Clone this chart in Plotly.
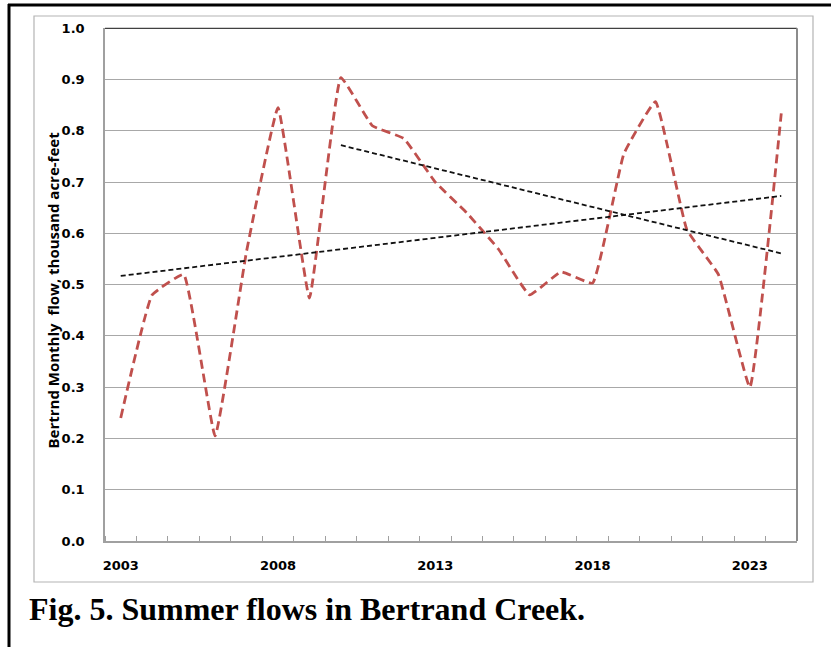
import plotly.graph_objects as go

# Summer (monthly) flows, Bertrand Creek, thousand acre-feet
years = list(range(2003, 2025))
flows = [0.24, 0.48, 0.52, 0.205, 0.565, 0.845, 0.474, 0.904, 0.81, 0.785,
         0.70, 0.64, 0.57, 0.48, 0.525, 0.503, 0.756, 0.857, 0.607, 0.52,
         0.30, 0.834]

# Linear trend lines (full record and since 2010), given by their end points
trend_all_years = [2003, 2024]
trend_all_values = [0.517, 0.673]
trend_recent_years = [2010, 2024]
trend_recent_values = [0.772, 0.561]

x_tick_years = [2003, 2008, 2013, 2018, 2023]
x_tick_labels = ["2003", "2008", "2013", "2018", "2023"]

W, H = 831, 647


def px_x(px):
    return px / W


def px_y(py):
    return 1 - py / H


fig = go.Figure()

fig.add_trace(go.Scatter(
    x=years, y=flows, mode="lines",
    line=dict(color="#c0504d", width=2.8, dash="9px,5px", shape="spline", smoothing=0.3),
    hoverinfo="x+y",
))
fig.add_trace(go.Scatter(
    x=trend_all_years, y=trend_all_values, mode="lines",
    line=dict(color="#111111", width=1.8, dash="5px,3px"),
))
fig.add_trace(go.Scatter(
    x=trend_recent_years, y=trend_recent_values, mode="lines",
    line=dict(color="#111111", width=1.8, dash="5px,3px"),
))

tick_font = dict(family="DejaVu Sans", size=13, color="#000000", weight="bold")

fig.update_layout(
    width=W, height=H,
    margin=dict(l=0, r=0, t=0, b=0, autoexpand=False),
    paper_bgcolor="white", plot_bgcolor="white",
    showlegend=False,
    xaxis=dict(
        domain=[px_x(105), px_x(797)],
        range=[2002.5, 2024.5], automargin=False,
        tickmode="array", tickvals=x_tick_years, ticktext=x_tick_labels,
        ticks="", showgrid=False, zeroline=False,
        showline=True, linecolor="#a0a0a0", linewidth=1.5,
        tickfont=tick_font, ticklabelstandoff=12,
        minor=dict(ticks="inside", ticklen=5, tickwidth=1, tickcolor="#a0a0a0",
                   tick0=2002.5, dtick=1, showgrid=False),
    ),
    yaxis=dict(
        domain=[px_y(541), px_y(28.3)],
        range=[0, 1.0], dtick=0.1, tick0=0, tickformat=".1f", automargin=False,
        ticks="", showgrid=True, gridcolor="#a8a8a8", gridwidth=1,
        zeroline=False, showline=True, linecolor="#a0a0a0", linewidth=1.5,
        tickfont=tick_font, ticklabelstandoff=16,
    ),
)

shapes = [
    # outer frame (top and left heavy rules)
    dict(type="line", xref="paper", yref="paper", x0=px_x(8), x1=1.0,
         y0=px_y(5), y1=px_y(5), line=dict(color="black", width=3)),
    dict(type="line", xref="paper", yref="paper", x0=px_x(9), x1=px_x(9),
         y0=px_y(4), y1=0, line=dict(color="black", width=3)),
    # chart area border
    dict(type="rect", xref="paper", yref="paper", x0=px_x(34), x1=px_x(813),
         y0=px_y(582), y1=px_y(16), line=dict(color="#b4b4b4", width=1.2)),
    # plot area top and right edges
    dict(type="line", xref="paper", yref="paper", x0=px_x(105), x1=px_x(797),
         y0=px_y(28.3), y1=px_y(28.3), line=dict(color="#404040", width=1.2)),
    dict(type="line", xref="paper", yref="paper", x0=px_x(797), x1=px_x(797),
         y0=px_y(541), y1=px_y(28.3), line=dict(color="#8c8c8c", width=2)),
]
fig.update_layout(shapes=shapes)

fig.add_annotation(
    xref="paper", yref="paper", x=px_x(52.5), y=px_y(290),
    text="Bertrnd Monthly\u00a0 flow, thousand acre-feet",
    textangle=-90, showarrow=False, xanchor="center", yanchor="middle",
    font=dict(family="Open Sans", size=15, color="#000000", weight="bold"),
)
fig.add_annotation(
    xref="paper", yref="paper", x=px_x(27), y=px_y(609),
    text="Fig. 5. Summer flows in Bertrand Creek.",
    showarrow=False, xanchor="left", yanchor="middle",
    font=dict(family="Liberation Serif", size=32, color="#000000", weight="bold"),
)

fig.write_html("out.html")
